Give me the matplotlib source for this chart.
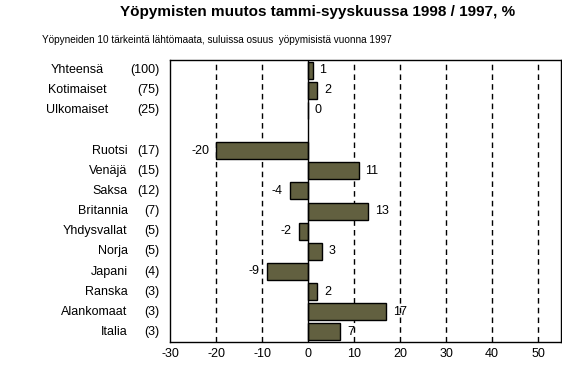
import matplotlib
matplotlib.use('Agg')
import matplotlib.pyplot as plt
import numpy as np

plt.rcParams['font.family'] = ['Liberation Sans', 'DejaVu Sans']

# data
names = ['Yhteensä', 'Kotimaiset', 'Ulkomaiset', '',
         'Ruotsi', 'Venäjä', 'Saksa', 'Britannia', 'Yhdysvallat',
         'Norja', 'Japani', 'Ranska', 'Alankomaat', 'Italia']
shares = ['(100)', '(75)', '(25)', '',
          '(17)', '(15)', '(12)', '(7)', '(5)', '(5)', '(4)', '(3)', '(3)', '(3)']
changes = [1, 2, 0, None, -20, 11, -4, 13, -2, 3, -9, 2, 17, 7]
xticks = [-30, -20, -10, 0, 10, 20, 30, 40, 50]

title = 'Yöpymisten muutos tammi-syyskuussa 1998 / 1997, %'
subtitle = 'Yöpyneiden 10 tärkeintä lähtömaata, suluissa osuus  yöpymisistä vuonna 1997'

bar_col = '#626040'

fig = plt.figure(figsize=(5.62, 3.66), dpi=100)
W, H = 562, 366
ax = fig.add_axes([170 / W, 24 / H, 391 / W, 282 / H])

ypos = np.arange(len(names))
for y, v in zip(ypos, changes):
    if v is None:
        continue
    ax.barh(y, v, height=0.85, color=bar_col, edgecolor='black', linewidth=1, zorder=3)
    if v >= 0:
        ax.annotate(str(v), (v, y), xytext=(5, 0), textcoords='offset points',
                    ha='left', va='center', fontsize=9)
    else:
        ax.annotate(str(v), (v, y), xytext=(-5, 0), textcoords='offset points',
                    ha='right', va='center', fontsize=9)

# row labels: name + share
tr = ax.get_yaxis_transform()
for i, (n, s) in enumerate(zip(names, shares)):
    if not n:
        continue
    if i < 3:
        ax.text(-0.238, i, n, transform=tr, ha='center', va='center', fontsize=9)
    else:
        ax.text(-0.108, i, n, transform=tr, ha='right', va='center', fontsize=9)
    ax.text(-0.026, i, s, transform=tr, ha='right', va='center', fontsize=9)

for x in xticks:
    if x in (-30, 0):
        continue
    ax.axvline(x, color='black', linewidth=1, linestyle=(0, (4, 3)), zorder=1)
ax.axvline(0, color='black', linewidth=1, zorder=4)

ax.set_xlim(-30, 55)
ax.set_ylim(len(names) - 0.5, -0.5)
ax.set_xticks(xticks)
ax.set_xticklabels([str(x) for x in xticks], fontsize=9)
ax.tick_params(axis='x', length=0, pad=4)
ax.set_yticks([])
for sp in ax.spines.values():
    sp.set_linewidth(1)

fig.text(318 / W, 1 - 12 / H, title, ha='center', va='center',
         fontsize=11, fontweight='bold')
fig.text(42 / W, 1 - 40 / H, subtitle, ha='left', va='center', fontsize=7.2)

fig.savefig('out.png', dpi=100)
